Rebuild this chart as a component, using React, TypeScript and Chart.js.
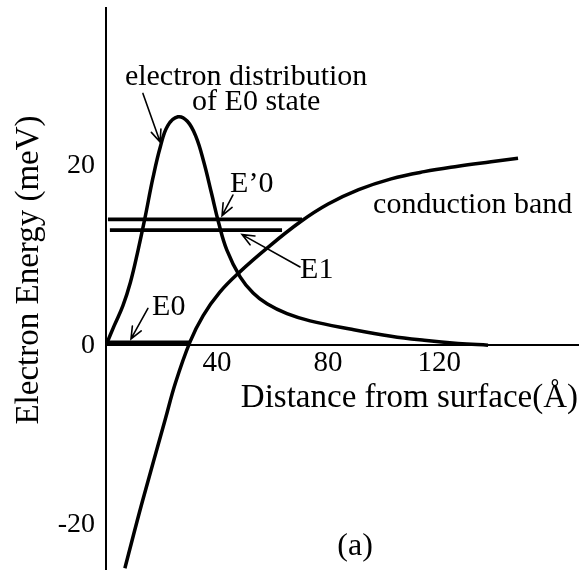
import { useEffect, useRef } from 'react';
import { Chart, registerables } from 'chart.js';

Chart.register(...registerables);

const SERIF = '"Liberation Serif", "Times New Roman", serif';

// Conduction-band edge: distance (Å) and energy (meV)
const bandX = [6.8, 13.0, 21.3, 25.0, 30.3, 35.0, 41.0, 48.0, 58.0, 69.9, 80.0, 91.0, 102.7, 114.6, 126.8, 138.7, 148.4];
const bandY = [-24.8, -17.5, -8.3, -4.2, 0.4, 3.3, 5.9, 8.1, 10.8, 13.7, 15.7, 17.3, 18.5, 19.3, 19.9, 20.4, 20.8];

// Electron distribution of the E0 state
const distX = [0, 3.0, 6.1, 8.8, 11.5, 14.0, 16.9, 19.6, 22.2, 25.9, 29.3, 32.4, 35.2, 38.0, 40.5, 43.5, 48.3, 53.0, 58.0, 65.2, 73.5, 87.9, 102.7, 114.6, 126.8, 137.6];
const distY = [0, 2.2, 4.4, 7.0, 10.5, 14.1, 18.6, 22.1, 24.4, 25.4, 24.9, 23.2, 20.4, 16.9, 13.7, 10.6, 7.6, 5.8, 4.6, 3.5, 2.7, 1.8, 1.0, 0.55, 0.2, 0];

// Subband levels: name, energy (meV), start and end distance (Å)
const levelNames = ['E0', 'E1', "E'0"];
const levelEnergy = [0.3, 12.8, 14.0];
const levelStart = [0, 1.4, 0.7];
const levelEnd = [30.2, 63.4, 70.6];

// Axis ticks
const xTicks = [40, 80, 120];
const yTicks = [-20, 0, 20];

// Labels and pointer arrows, in data coordinates
const notes = [
  { text: 'electron distribution', x: 6.8, y: 28.9 },
  { text: 'of E0 state', x: 31.0, y: 26.2 },
  { text: 'E\u20190', x: 44.7, y: 17.0 },
  { text: 'E1', x: 69.9, y: 7.5 },
  { text: 'E0', x: 16.6, y: 3.4 },
  { text: 'conduction band', x: 96.2, y: 14.7 },
];
const arrows = [
  { x1: 13.3, y1: 28.0, x2: 19.5, y2: 22.6 },
  { x1: 45.7, y1: 16.7, x2: 41.8, y2: 14.4 },
  { x1: 69.9, y1: 8.7, x2: 49.0, y2: 12.3 },
  { x1: 15.1, y1: 4.1, x2: 9.0, y2: 0.7 },
];

const annotate = {
  id: 'annotate',
  afterDatasetsDraw(chart: any) {
    const { ctx, chartArea } = chart;
    const xs = chart.scales.x;
    const ys = chart.scales.y;
    ctx.save();
    ctx.fillStyle = '#000';
    ctx.strokeStyle = '#000';

    ctx.font = `30px ${SERIF}`;
    ctx.textAlign = 'left';
    ctx.textBaseline = 'alphabetic';
    for (const n of notes) {
      ctx.fillText(n.text, xs.getPixelForValue(n.x), ys.getPixelForValue(n.y));
    }

    ctx.lineWidth = 1.6;
    ctx.lineCap = 'round';
    for (const a of arrows) {
      const x1 = xs.getPixelForValue(a.x1);
      const y1 = ys.getPixelForValue(a.y1);
      const x2 = xs.getPixelForValue(a.x2);
      const y2 = ys.getPixelForValue(a.y2);
      const ang = Math.atan2(y2 - y1, x2 - x1);
      const head = 13;
      const spread = 0.4;
      ctx.beginPath();
      ctx.moveTo(x1, y1);
      ctx.lineTo(x2, y2);
      ctx.moveTo(x2 - head * Math.cos(ang - spread), y2 - head * Math.sin(ang - spread));
      ctx.lineTo(x2, y2);
      ctx.lineTo(x2 - head * Math.cos(ang + spread), y2 - head * Math.sin(ang + spread));
      ctx.stroke();
    }

    // panel caption
    ctx.font = `32px ${SERIF}`;
    ctx.textAlign = 'center';
    ctx.fillText('(a)', xs.getPixelForValue(89.7), ys.getPixelForValue(-23.3));

    // axis titles
    const zero = ys.getPixelForValue(0);
    ctx.font = `33px ${SERIF}`;
    ctx.textAlign = 'right';
    ctx.fillText('Distance from surface(\u00C5)', chartArea.right, zero + 62);

    ctx.translate(38, 270);
    ctx.rotate(-Math.PI / 2);
    ctx.textAlign = 'center';
    ctx.fillText('Electron Energy (meV)', 0, 0);
    ctx.restore();
  },
};

export default function App() {
  const ref = useRef<HTMLCanvasElement | null>(null);

  useEffect(() => {
    if (!ref.current) return;
    const curve = (xv: number[], yv: number[]) => ({
      data: xv.map((x, i) => ({ x, y: yv[i] })),
      borderColor: '#000',
      borderWidth: 3.5,
      pointRadius: 0,
      fill: false,
      tension: 0.4,
    });
    const levels = levelNames.map((name, i) => ({
      label: name,
      data: [
        { x: levelStart[i], y: levelEnergy[i] },
        { x: levelEnd[i], y: levelEnergy[i] },
      ],
      borderColor: '#000',
      borderWidth: 3.8,
      pointRadius: 0,
      fill: false,
    }));

    const chart = new Chart(ref.current, {
      type: 'line',
      data: {
        datasets: [
          { label: 'conduction band', ...curve(bandX, bandY) },
          { label: 'electron distribution', ...curve(distX, distY) },
          ...levels,
        ],
      },
      options: {
        responsive: false,
        animation: false,
        layout: { padding: { left: 0, right: 4, top: 8, bottom: 0 } },
        plugins: { legend: { display: false }, tooltip: { enabled: false } },
        scales: {
          x: {
            type: 'linear',
            min: 0,
            max: 170,
            position: { y: 0 } as any,
            grid: { display: false, drawTicks: false },
            border: { display: true, color: '#000', width: 2 },
            afterBuildTicks: (s: any) => {
              s.ticks = xTicks.map((v) => ({ value: v }));
            },
            afterFit: (s: any) => {
              s.paddingLeft = 0;
              s.paddingRight = 0;
            },
            ticks: {
              autoSkip: false,
              maxRotation: 0,
              padding: 1,
              color: '#000',
              font: { family: SERIF, size: 29 },
            },
          },
          y: {
            type: 'linear',
            min: -25,
            max: 37.5,
            position: 'left',
            grid: { display: false, drawTicks: false },
            border: { display: true, color: '#000', width: 2 },
            afterBuildTicks: (s: any) => {
              s.ticks = yTicks.map((v) => ({ value: v }));
            },
            afterFit: (s: any) => {
              s.width = 106;
              s.paddingTop = 0;
              s.paddingBottom = 0;
            },
            ticks: {
              autoSkip: false,
              padding: 11,
              color: '#000',
              font: { family: SERIF, size: 28 },
            },
          },
        },
      },
      plugins: [annotate],
    });
    return () => chart.destroy();
  }, []);

  return (
    <div style={{ position: 'absolute', left: 0, top: 0, width: 582, height: 570, background: '#fff' }}>
      <canvas ref={ref} width={582} height={570} />
    </div>
  );
}
